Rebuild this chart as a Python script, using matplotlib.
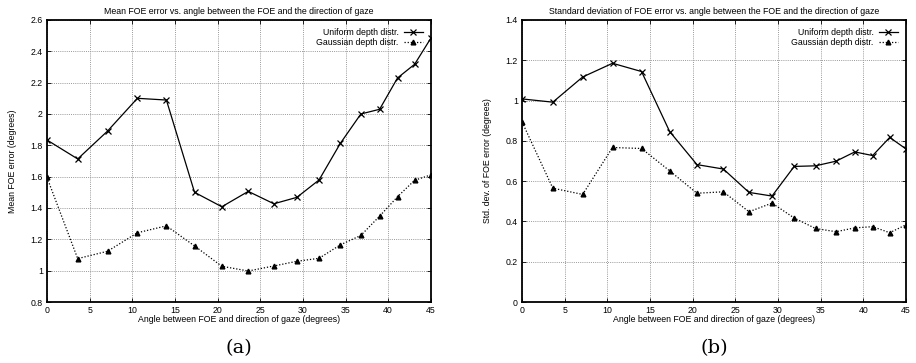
import matplotlib
matplotlib.use('Agg')
import matplotlib.pyplot as plt

# angles (degrees) between FOE and direction of gaze
angles = [0, 3.6, 7.1, 10.6, 14.0, 17.3, 20.5, 23.6, 26.6, 29.3, 31.9, 34.4, 36.8, 39.0, 41.1, 43.1, 45]

mean_uniform = [1.834, 1.713, 1.891, 2.10, 2.089, 1.50, 1.408, 1.506, 1.427, 1.468, 1.579,
                1.813, 2.0, 2.03, 2.23, 2.317, 2.483]
mean_gauss = [1.595, 1.077, 1.124, 1.242, 1.286, 1.158, 1.028, 0.998, 1.030, 1.060, 1.079,
              1.165, 1.225, 1.348, 1.472, 1.577, 1.611]

std_uniform = [1.008, 0.992, 1.117, 1.185, 1.144, 0.846, 0.682, 0.660, 0.544, 0.526, 0.673,
               0.676, 0.699, 0.745, 0.727, 0.817, 0.760]
std_gauss = [0.893, 0.565, 0.534, 0.767, 0.762, 0.651, 0.540, 0.547, 0.448, 0.491, 0.417,
             0.365, 0.349, 0.368, 0.374, 0.344, 0.383]

plt.rcParams['font.family'] = ['Liberation Sans', 'DejaVu Sans']
FS = 6.3

fig = plt.figure(figsize=(9.16, 3.63), dpi=100)
ax1 = fig.add_axes([0.0513, 0.168, 0.419, 0.777])
ax2 = fig.add_axes([0.570, 0.168, 0.419, 0.777])


def draw_panel(ax, uni, gau, title, ylabel, ylim, yticks, ytlabels, tag):
    ax.plot(angles, uni, color='black', lw=0.9, marker='x', ms=3.8, mew=0.9,
            label='Uniform depth distr.')
    ax.plot(angles, gau, color='black', lw=0.9, ls=(0, (1, 1.5)), marker='^', ms=3.4,
            label='Gaussian depth distr.')
    ax.set_xlim(0, 45)
    ax.set_ylim(*ylim)
    ax.set_xticks(range(0, 46, 5))
    ax.set_yticks(yticks)
    ax.set_yticklabels(ytlabels)
    ax.grid(True, color='#999999', ls=(0, (1, 1.2)), lw=0.7)
    ax.tick_params(direction='in', length=3, width=0.6, labelsize=FS, pad=3,
                   top=True, right=True, colors='black')
    for s in ax.spines.values():
        s.set_linewidth(1.3)
    ax.set_title(title, fontsize=FS, pad=4)
    ax.set_xlabel('Angle between FOE and direction of gaze (degrees)', fontsize=FS, labelpad=0)
    ax.set_ylabel(ylabel, fontsize=FS, labelpad=10)
    ax.legend(loc='upper right', fontsize=FS, frameon=False, markerfirst=False,
              handlelength=2.2, handletextpad=0.6, labelspacing=0.15,
              borderaxespad=0.5)
    ax.text(0.5, -0.165, tag, transform=ax.transAxes, ha='center', va='center',
            fontsize=14, family='DejaVu Serif')


draw_panel(ax1, mean_uniform, mean_gauss,
           'Mean FOE error vs. angle between the FOE and the direction of gaze',
           'Mean FOE error (degrees)', (0.8, 2.6),
           [0.8, 1.0, 1.2, 1.4, 1.6, 1.8, 2.0, 2.2, 2.4, 2.6],
           ['0.8', '1', '1.2', '1.4', '1.6', '1.8', '2', '2.2', '2.4', '2.6'], '(a)')
draw_panel(ax2, std_uniform, std_gauss,
           'Standard deviation of FOE error vs. angle between the FOE and the direction of gaze',
           'Std. dev. of FOE error (degrees)', (0, 1.4),
           [0, 0.2, 0.4, 0.6, 0.8, 1.0, 1.2, 1.4],
           ['0', '0.2', '0.4', '0.6', '0.8', '1', '1.2', '1.4'], '(b)')

fig.savefig('out.png', dpi=100)
